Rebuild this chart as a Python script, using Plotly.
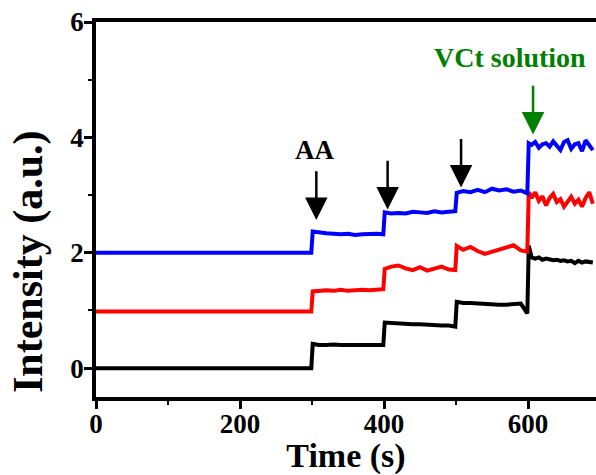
import plotly.graph_objects as go

# ---- data ----
time_s = [0, 100, 200, 299,
          301, 310, 320, 330, 340, 350, 360, 370, 380, 390, 399,
          401, 410, 420, 430, 440, 450, 460, 470, 480, 490, 499,
          501, 510, 520, 530, 540, 550, 560, 570, 580, 590, 599,
          601, 605, 610, 615, 620, 625, 630, 635, 640, 645, 650, 655, 660, 665, 670, 675, 680, 685, 690]

black_vals = [0.00, 0.00, 0.01, 0.00,
              0.42, 0.40, 0.40, 0.41, 0.40, 0.40, 0.39, 0.40, 0.40, 0.39, 0.40,
              0.79, 0.78, 0.77, 0.77, 0.76, 0.76, 0.75, 0.75, 0.74, 0.74, 0.72,
              1.15, 1.13, 1.13, 1.12, 1.11, 1.11, 1.10, 1.10, 1.11, 1.12, 0.95,
              2.12, 1.92, 1.90, 1.92, 1.88, 1.90, 1.89, 1.87, 1.88, 1.86, 1.87, 1.85, 1.86, 1.82, 1.86, 1.83, 1.85, 1.84, 1.83]

red_vals = [0.98, 0.98, 0.98, 0.98,
            1.33, 1.34, 1.35, 1.34, 1.36, 1.34, 1.35, 1.36, 1.35, 1.36, 1.37,
            1.72, 1.76, 1.78, 1.73, 1.70, 1.75, 1.69, 1.73, 1.76, 1.71, 1.70,
            2.12, 2.05, 2.10, 2.03, 1.98, 2.02, 2.06, 2.09, 2.13, 2.04, 2.02,
            3.05, 2.95, 3.05, 2.90, 2.98, 2.82, 2.95, 3.02, 2.88, 2.93, 2.80, 2.90, 2.97, 2.85, 2.92, 2.80, 2.95, 3.05, 2.85]

blue_vals = [2.00, 2.00, 2.00, 2.00,
             2.37, 2.35, 2.34, 2.33, 2.32, 2.33, 2.31, 2.32, 2.33, 2.33, 2.32,
             2.70, 2.68, 2.69, 2.68, 2.71, 2.70, 2.69, 2.72, 2.70, 2.71, 2.72,
             3.04, 3.07, 3.05, 3.09, 3.05, 3.11, 3.08, 3.10, 3.06, 3.08, 3.03,
             3.90, 3.87, 3.92, 3.82, 3.88, 3.90, 3.84, 3.93, 3.85, 3.78, 3.92, 3.95, 3.80, 3.88, 3.90, 3.76, 3.95, 3.85, 3.78]

# arrows: x position, tip y, tail y
arrow_x = [306, 405, 507, 607]
arrow_tip = [2.57, 2.75, 3.13, 4.05]
arrow_tail = [3.44, 3.62, 4.00, 4.92]
arrow_color = ["black", "black", "black", "#008000"]

x_ticks = [0, 200, 400, 600]
y_ticks = [0, 2, 4, 6]

FONT = "Liberation Serif"

fig = go.Figure()
for vals, col in [(black_vals, "black"), (red_vals, "#ff0000"), (blue_vals, "#0000ff")]:
    fig.add_trace(go.Scatter(x=time_s, y=vals, mode="lines",
                             line=dict(color=col, width=4), showlegend=False))

for xa, tip, tail, col in zip(arrow_x, arrow_tip, arrow_tail, arrow_color):
    fig.add_annotation(x=xa, y=tip, ax=xa, ay=tail, xref="x", yref="y",
                       axref="x", ayref="y", text="", showarrow=True,
                       arrowhead=2, arrowsize=1.8, arrowwidth=2.5, arrowcolor=col)

fig.add_annotation(x=304, y=3.79, xref="x", yref="y", text="<b>AA</b>", showarrow=False,
                   font=dict(family=FONT, size=27, color="black"))
fig.add_annotation(x=575, y=5.39, xref="x", yref="y", text="<b>VCt solution</b>", showarrow=False,
                   font=dict(family=FONT, size=28, color="#008000"))

# y-axis title as rotated annotation (placed lower, as in the reference)
fig.add_annotation(x=-0.136, y=0.36, xref="paper", yref="paper", text="<b>Intensity (a.u.)</b>",
                   textangle=-90, showarrow=False, xanchor="center", yanchor="middle",
                   font=dict(family=FONT, size=42, color="black"))

axis_common = dict(showgrid=False, zeroline=False, showline=True, linecolor="black",
                   linewidth=3.5, ticks="outside", ticklen=8, tickwidth=2.5, tickcolor="black",
                   automargin=False,
                   tickfont=dict(family=FONT, size=27, color="black"))

fig.update_xaxes(range=[0, 694.4], tickvals=x_ticks, ticktext=[f"<b>{v}</b>" for v in x_ticks],
                 mirror=True, ticklabelstandoff=-8,
                 minor=dict(tickvals=[100, 300, 500], ticks="outside", ticklen=4, tickwidth=2, tickcolor="black"),
                 title=dict(text="<b>Time (s)</b>", font=dict(family=FONT, size=34, color="black"), standoff=2),
                 **axis_common)
fig.update_yaxes(range=[-0.5, 6], tickvals=y_ticks, ticktext=[f"<b>{v}</b>" for v in y_ticks],
                 ticklabelstandoff=-5,
                 minor=dict(tickvals=[1, 3, 5], ticks="outside", ticklen=4, tickwidth=2, tickcolor="black"),
                 **axis_common)

fig.update_layout(width=596, height=475, margin=dict(l=96, r=0, t=22, b=78),
                  paper_bgcolor="white", plot_bgcolor="white",
                  font=dict(family=FONT, color="black"))
fig.write_html("out.html", config={"displayModeBar": False},
               post_script="document.body.style.margin='0';")
